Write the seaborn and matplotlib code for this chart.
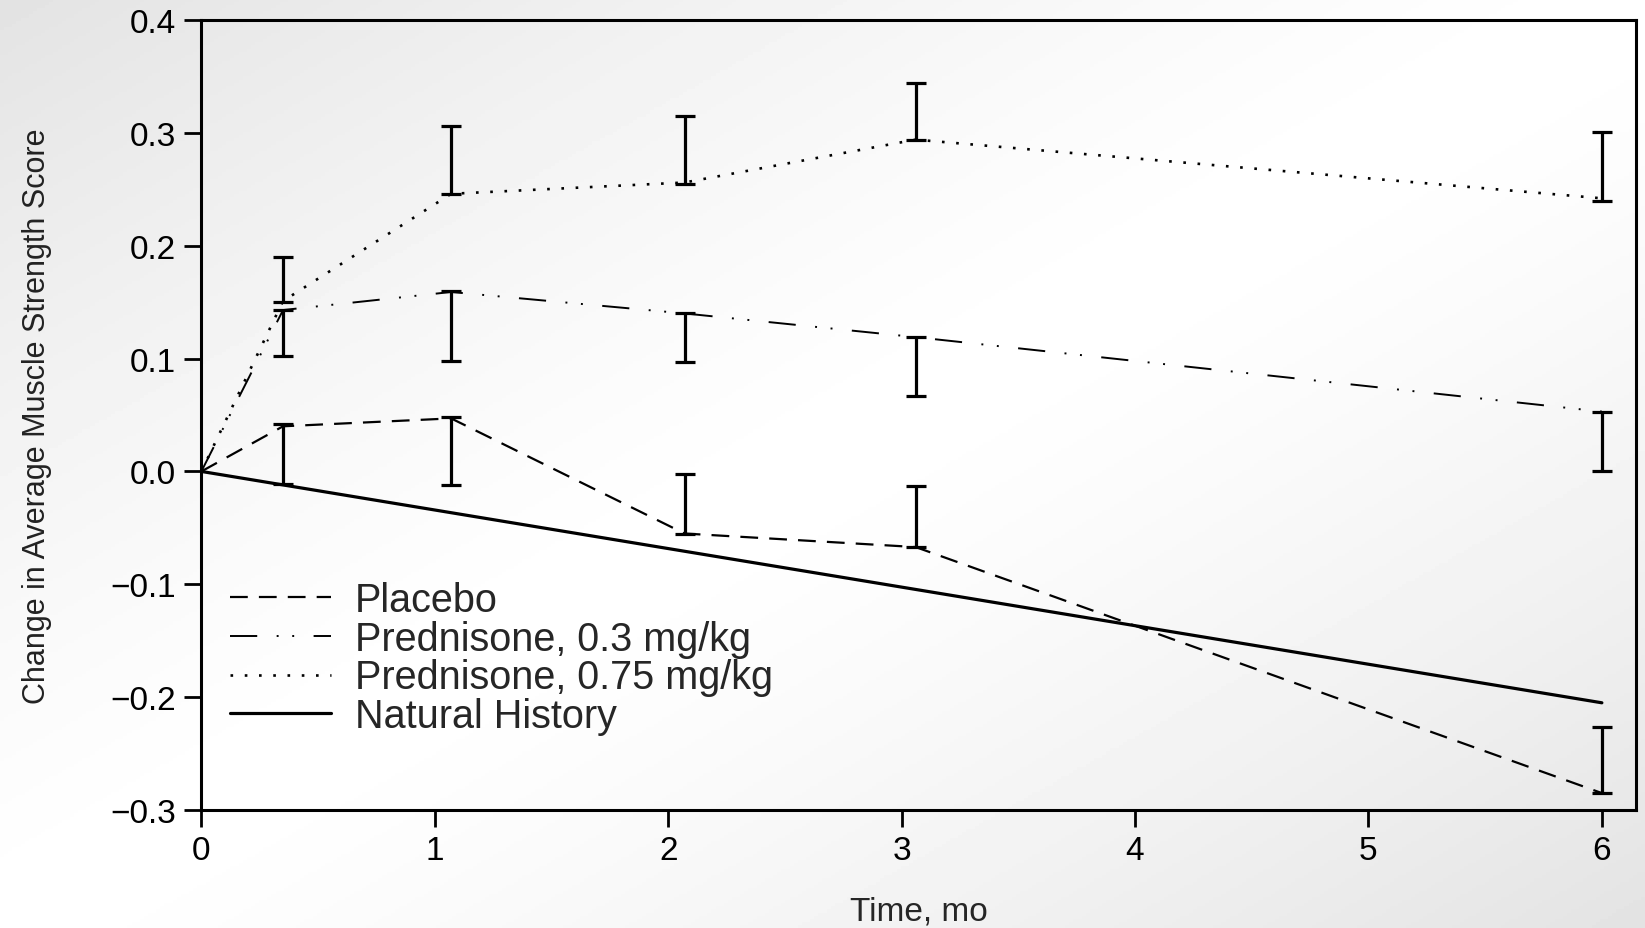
import numpy as np
import pandas as pd
import matplotlib
matplotlib.use("Agg")
import matplotlib.pyplot as plt
import seaborn as sns


# time points (months) as plotted in the figure
months = [0, 0.35, 1.07, 2.07, 3.06, 6.0]
placebo = [0.0, 0.040, 0.047, -0.055, -0.067, -0.285]
pred_03 = [0.0, 0.143, 0.159, 0.140, 0.119, 0.053]
pred_075 = [0.0, 0.151, 0.246, 0.256, 0.294, 0.242]

natural_months = [0, 6.0]
natural = [0.0, -0.205]

# one-sided error bars (lower / upper ends)
bar_months = [0.35, 1.07, 2.07, 3.06, 6.0]
placebo_lo = [-0.011, -0.012, -0.055, -0.067, -0.285]
placebo_hi = [0.042, 0.048, -0.002, -0.013, -0.226]
pred_03_lo = [0.102, 0.098, 0.097, 0.067, 0.0]
pred_03_hi = [0.143, 0.160, 0.140, 0.119, 0.053]
pred_075_lo = [0.150, 0.246, 0.255, 0.294, 0.240]
pred_075_hi = [0.190, 0.306, 0.315, 0.344, 0.301]

y_ticks = [-0.3, -0.2, -0.1, 0.0, 0.1, 0.2, 0.3, 0.4]
x_ticks = [0, 1, 2, 3, 4, 5, 6]

sns.set_style("ticks")
plt.rcParams['font.family'] = ['Liberation Sans', 'DejaVu Sans']

fig = plt.figure(figsize=(16.45, 9.29), dpi=100)

# slide-like grey vignette behind the plot
bg = fig.add_axes([0, 0, 1, 1], zorder=-10)
gx, gy = np.meshgrid(np.linspace(0, 1, 400), np.linspace(1, 0, 300))
shade = 1 - 0.11 * np.clip(np.abs(gx - gy), 0, 1) ** 1.3
bg.imshow(shade, cmap='gray', vmin=0, vmax=1, aspect='auto',
          extent=[0, 1, 0, 1])
bg.axis('off')

ax = fig.add_axes([0.1224, 0.127, 0.9945 - 0.1224, 0.9774 - 0.127])
ax.set_facecolor('none')

sns.lineplot(x=months, y=placebo, ax=ax, color='black', lw=1.6,
             linestyle=(0, (8, 5)), label='Placebo')
sns.lineplot(x=months, y=pred_03, ax=ax, color='black', lw=1.4,
             linestyle=(0, (14, 10, 1, 7, 1, 10)),
             label='Prednisone, 0.3 mg/kg')
sns.lineplot(x=months, y=pred_075, ax=ax, color='black', lw=1.9,
             linestyle=(0, (1, 4.4)), label='Prednisone, 0.75 mg/kg')
sns.lineplot(x=natural_months, y=natural, ax=ax, color='black', lw=2.3,
             label='Natural History')

for lo, hi in [(placebo_lo, placebo_hi), (pred_03_lo, pred_03_hi),
               (pred_075_lo, pred_075_hi)]:
    lo = np.array(lo)
    hi = np.array(hi)
    ax.errorbar(bar_months, (lo + hi) / 2, yerr=(hi - lo) / 2, fmt='none',
                ecolor='black', elinewidth=2.3, capsize=7.5, capthick=2.3)

ax.set_xlim(0, 6.146)
ax.set_ylim(-0.3, 0.4)
ax.set_xticks(x_ticks)
ax.set_xticklabels([str(t) for t in x_ticks])
ax.set_yticks(y_ticks)
ax.set_yticklabels([f"{t:.1f}".replace('-', '\u2212') for t in y_ticks])
ax.tick_params(axis='both', direction='out', length=12, width=2,
               labelsize=24, colors='black', pad=6)
ax.tick_params(top=False, right=False)
for s in ax.spines.values():
    s.set_visible(True)
    s.set_linewidth(2.2)
    s.set_color('black')

ax.set_xlabel('Time, mo', fontsize=24, labelpad=21)
ax.set_ylabel('Change in Average Muscle Strength Score', fontsize=22,
              color='#222222')
ax.yaxis.set_label_coords(-0.104, 0.5)

ax.legend(loc='upper left', bbox_to_anchor=(0.02, 0.29), frameon=False,
          fontsize=28.5, handlelength=2.55, handletextpad=0.6,
          labelspacing=0.02, borderaxespad=0, borderpad=0)

fig.savefig('out.png', dpi=100)
